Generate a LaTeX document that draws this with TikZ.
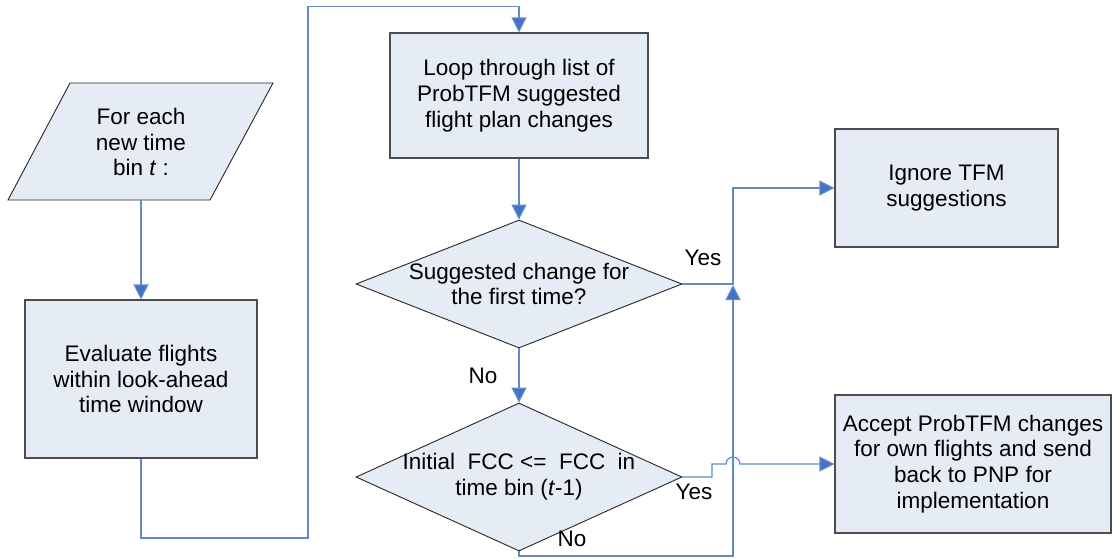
\documentclass[tikz,border=0pt]{standalone}
\usepackage{fontspec}
\setmainfont{Liberation Sans}
\usetikzlibrary{arrows.meta,shapes.geometric}
\definecolor{boxfill}{RGB}{230,236,246}
\definecolor{linec}{RGB}{96,138,204}
\definecolor{tipc}{RGB}{68,114,196}
\begin{document}
\begin{tikzpicture}[x=1pt,y=-1pt,
  every node/.style={font=\fontsize{22.5}{25.8}\selectfont, align=center},
  procbox/.style={draw=black!70, line width=1.1pt, fill=boxfill, rectangle, inner sep=0pt},
  decbox/.style={draw=black!85, line width=0.9pt, fill=boxfill, diamond, inner sep=0pt, minimum width=#1},
  lbl/.style={inner sep=0pt},
  conn/.style={draw=linec, line width=1.2pt},
  arr/.style={conn, -{Triangle[length=15pt,width=15pt,fill=tipc]}}
]
\useasboundingbox (0,0) rectangle (1112,558);
% input parallelogram
\draw[draw=black!85, line width=0.9pt, fill=boxfill] (70,83) -- (273,83) -- (210,200) -- (8,200) -- cycle;
\node[lbl] (inp) at (141,142) {For each\\new time\\bin \textit{t} :};
\coordinate (inpbot) at (141,200);
% boxes
\node[procbox, minimum width=232pt, minimum height=158pt] (eval) at (141,379) {Evaluate flights\\within look-ahead\\time window};
\node[procbox, minimum width=258pt, minimum height=125pt] (loop) at (519,95.5) {Loop through list of\\ProbTFM suggested\\flight plan changes};
\node[procbox, minimum width=223pt, minimum height=118pt] (ign) at (946.5,188) {Ignore TFM\\suggestions};
\node[procbox, minimum width=276pt, minimum height=138pt] (acc) at (973,464) {Accept ProbTFM changes\\for own flights and send\\back to PNP for\\implementation};
% diamonds
\node[decbox=326pt, minimum height=128pt] (d1) at (519,284) {};
\node[lbl] (d1t) at (519,284) {Suggested change for\\the first time?};
\node[decbox=326pt, minimum height=148pt] (d2) at (519,477) {};
\node[lbl] (d2t) at (519,477) {Initial\ \ FCC <=\ \ FCC\ \ in\\time bin (\textit{t}-1)};
% labels
\node[lbl] (y1) at (703,258) {Yes};
\node[lbl] (n1) at (483,376) {No};
\node[lbl] (y2) at (694,492) {Yes};
\node[lbl] (n2) at (572,539) {No};
% coordinates
\coordinate (junc) at (733,285);
% connectors
\draw[arr] (inpbot) -- (eval.north);
\draw[arr] (eval.south) -- (141,538) -- (308,538) -- (308,6.5) -- (519,6.5) -- (loop.north);
\draw[arr] (loop.south) -- (d1.north);
\draw[arr] (d1.south) -- (d2.north);
\draw[arr] (d1.east) -- (733,284) -- (733,188) -- (ign.west);
\draw[arr] (d2.south) -- (519,556) -- (733,556) -- (junc);
\draw[arr] (d2.east) -- (712,477) -- (712,464) -- (726,464) arc[start angle=180, end angle=360, radius=7] -- (acc.west);
\end{tikzpicture}
\end{document}
